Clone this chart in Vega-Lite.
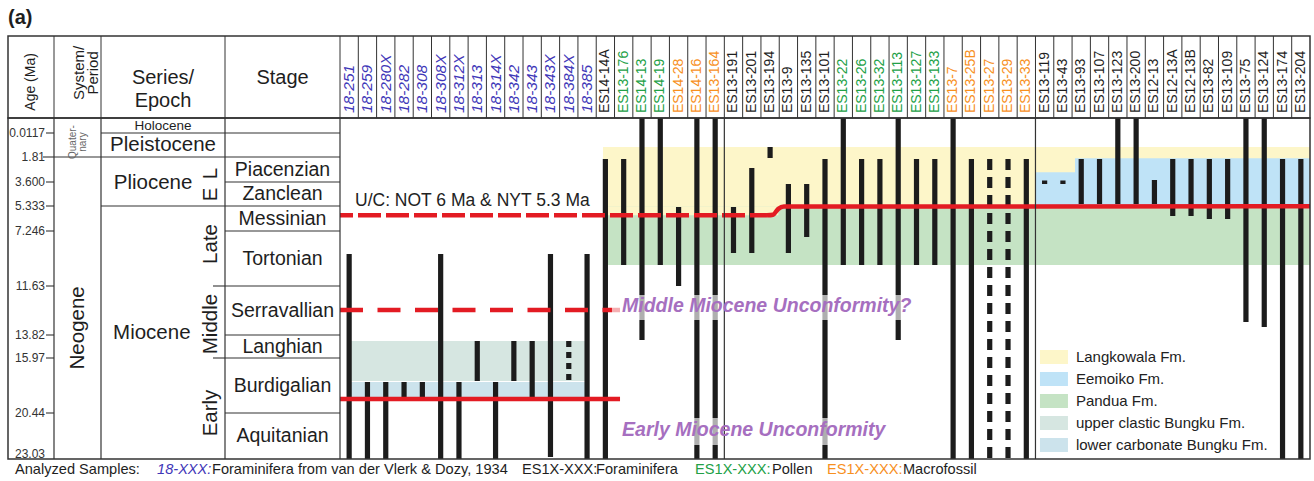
{
"$schema": "https://vega.github.io/schema/vega-lite/v6.json",
"width": 1314, "height": 481, "padding": 0,
"autosize": {"type": "none"},
"background": "#ffffff",
"config": {"view": {"stroke": null}, "axis": {"disable": true}, "legend": {"disable": true}, "font": "Liberation Sans", "text": {"font": "Liberation Sans", "color": "#1e1e1e"}},
"datasets": {
"samples": [
{"col":1,"sample":"18-251","group":"vdV"},{"col":2,"sample":"18-259","group":"vdV"},{"col":3,"sample":"18-280X","group":"vdV"},{"col":4,"sample":"18-282","group":"vdV"},{"col":5,"sample":"18-308","group":"vdV"},{"col":6,"sample":"18-308X","group":"vdV"},{"col":7,"sample":"18-312X","group":"vdV"},{"col":8,"sample":"18-313","group":"vdV"},{"col":9,"sample":"18-314X","group":"vdV"},{"col":10,"sample":"18-342","group":"vdV"},{"col":11,"sample":"18-343","group":"vdV"},{"col":12,"sample":"18-343X","group":"vdV"},{"col":13,"sample":"18-384X","group":"vdV"},{"col":14,"sample":"18-385","group":"vdV"},
{"col":15,"sample":"ES14-14A","group":"foraminifera"},{"col":16,"sample":"ES13-176","group":"pollen"},{"col":17,"sample":"ES14-13","group":"pollen"},{"col":18,"sample":"ES14-19","group":"pollen"},{"col":19,"sample":"ES14-28","group":"macrofossil"},{"col":20,"sample":"ES14-16","group":"macrofossil"},{"col":21,"sample":"ES13-164","group":"macrofossil"},
{"col":22,"sample":"ES13-191","group":"foraminifera"},{"col":23,"sample":"ES13-201","group":"foraminifera"},{"col":24,"sample":"ES13-194","group":"foraminifera"},{"col":25,"sample":"ES13-9","group":"foraminifera"},{"col":26,"sample":"ES13-135","group":"foraminifera"},{"col":27,"sample":"ES13-101","group":"foraminifera"},
{"col":28,"sample":"ES13-22","group":"pollen"},{"col":29,"sample":"ES13-26","group":"pollen"},{"col":30,"sample":"ES13-32","group":"pollen"},{"col":31,"sample":"ES13-113","group":"pollen"},{"col":32,"sample":"ES13-127","group":"pollen"},{"col":33,"sample":"ES13-133","group":"pollen"},
{"col":34,"sample":"ES13-7","group":"macrofossil"},{"col":35,"sample":"ES13-25B","group":"macrofossil"},{"col":36,"sample":"ES13-27","group":"macrofossil"},{"col":37,"sample":"ES13-29","group":"macrofossil"},{"col":38,"sample":"ES13-33","group":"macrofossil"},
{"col":39,"sample":"ES13-119","group":"foraminifera"},{"col":40,"sample":"ES13-43","group":"foraminifera"},{"col":41,"sample":"ES13-93","group":"foraminifera"},{"col":42,"sample":"ES13-107","group":"foraminifera"},{"col":43,"sample":"ES13-123","group":"foraminifera"},{"col":44,"sample":"ES13-200","group":"foraminifera"},{"col":45,"sample":"ES12-13","group":"foraminifera"},{"col":46,"sample":"ES12-13A","group":"foraminifera"},{"col":47,"sample":"ES12-13B","group":"foraminifera"},{"col":48,"sample":"ES13-82","group":"foraminifera"},{"col":49,"sample":"ES13-109","group":"foraminifera"},{"col":50,"sample":"ES13-75","group":"foraminifera"},{"col":51,"sample":"ES13-124","group":"foraminifera"},{"col":52,"sample":"ES13-174","group":"foraminifera"},{"col":53,"sample":"ES13-204","group":"foraminifera"}
],
"ranges": [
{"col":1,"top":9.08,"base":23.03,"line":"solid"},{"col":2,"top":17.92,"base":23.03,"line":"solid"},{"col":3,"top":17.92,"base":23.03,"line":"solid"},{"col":4,"top":17.92,"base":19.22,"line":"solid"},{"col":5,"top":17.92,"base":19.22,"line":"solid"},{"col":6,"top":9.08,"base":23.03,"line":"solid"},{"col":7,"top":17.92,"base":23.03,"line":"solid"},{"col":8,"top":14.38,"base":17.84,"line":"solid"},{"col":9,"top":17.92,"base":23.03,"line":"solid"},{"col":10,"top":14.38,"base":17.84,"line":"solid"},{"col":11,"top":14.38,"base":19.22,"line":"solid"},{"col":12,"top":9.08,"base":22.92,"line":"solid"},{"col":13,"top":14.38,"base":17.84,"line":"dotted"},{"col":14,"top":9.08,"base":23.03,"line":"solid"},
{"col":15,"top":1.95,"base":23.03,"line":"solid"},{"col":16,"top":1.95,"base":9.96,"line":"solid"},{"col":17,"top":0,"base":14.29,"line":"solid"},{"col":18,"top":0,"base":9.96,"line":"solid"},{"col":19,"top":5.41,"base":11.63,"line":"solid"},{"col":20,"top":0,"base":23.03,"line":"solid"},{"col":21,"top":0,"base":23.03,"line":"solid"},
{"col":22,"top":5.41,"base":9.0,"line":"solid"},{"col":23,"top":2.6,"base":9.0,"line":"solid"},{"col":24,"top":1.06,"base":1.88,"line":"solid"},{"col":25,"top":3.74,"base":9.0,"line":"solid"},{"col":26,"top":3.74,"base":7.72,"line":"solid"},{"col":27,"top":1.95,"base":23.03,"line":"solid"},
{"col":28,"top":0,"base":9.96,"line":"solid"},{"col":29,"top":1.95,"base":9.96,"line":"solid"},{"col":30,"top":1.95,"base":9.96,"line":"solid"},{"col":31,"top":0,"base":14.29,"line":"solid"},{"col":32,"top":1.95,"base":9.96,"line":"solid"},{"col":33,"top":1.95,"base":9.96,"line":"solid"},
{"col":34,"top":0,"base":23.03,"line":"solid"},{"col":35,"top":1.95,"base":23.03,"line":"solid"},{"col":36,"top":1.95,"base":23.03,"line":"dashed"},{"col":37,"top":1.95,"base":23.03,"line":"dashed"},{"col":38,"top":1.95,"base":23.03,"line":"solid"},
{"col":39,"top":3.49,"base":3.74,"line":"solid"},{"col":40,"top":3.49,"base":3.74,"line":"solid"},{"col":41,"top":1.95,"base":5.19,"line":"solid"},{"col":42,"top":1.95,"base":5.19,"line":"solid"},{"col":43,"top":0,"base":5.19,"line":"solid"},{"col":44,"top":0,"base":5.19,"line":"solid"},{"col":45,"top":3.46,"base":5.19,"line":"solid"},{"col":46,"top":1.95,"base":6.1,"line":"solid"},{"col":47,"top":1.95,"base":6.1,"line":"solid"},{"col":48,"top":1.95,"base":6.33,"line":"solid"},{"col":49,"top":1.95,"base":6.33,"line":"solid"},{"col":50,"top":0,"base":13.24,"line":"solid"},{"col":51,"top":0,"base":13.46,"line":"solid"},{"col":52,"top":1.95,"base":23.03,"line":"solid"},{"col":53,"top":1.95,"base":23.03,"line":"solid"}
],
"formations": [
{"formation":"Langkowala Fm.","x1":14.87,"x2":53.5,"top":1.06,"base":5.36},
{"formation":"Eemoiko Fm.","x1":40.66,"x2":53.5,"top":1.9,"base":5.36},
{"formation":"Eemoiko Fm.","x1":38.5,"x2":40.66,"top":2.9,"base":5.36},
{"formation":"Pandua Fm.","x1":14.87,"x2":53.5,"top":5.36,"base":9.96},
{"formation":"Langkowala Fm.","x1":14.87,"x2":24.45,"top":5.36,"base":6.05},
{"formation":"upper clastic Bungku Fm.","x1":1.05,"x2":13.89,"top":14.38,"base":17.84},
{"formation":"lower carbonate Bungku Fm.","x1":1.05,"x2":13.89,"top":17.92,"base":19.22}
],
"legend": [{"formation":"Langkowala Fm."},{"formation":"Eemoiko Fm."},{"formation":"Pandua Fm."},{"formation":"upper clastic Bungku Fm."},{"formation":"lower carbonate Bungku Fm."}],
"header_edges": [{"edge":-2.5},{"edge":-1.5},{"edge":-0.5},{"edge":0.5},{"edge":1.5},{"edge":2.5},{"edge":3.5},{"edge":4.5},{"edge":5.5},{"edge":6.5},{"edge":7.5},{"edge":8.5},{"edge":9.5},{"edge":10.5},{"edge":11.5},{"edge":12.5},{"edge":13.5},{"edge":14.5},{"edge":15.5},{"edge":16.5},{"edge":17.5},{"edge":18.5},{"edge":19.5},{"edge":20.5},{"edge":21.5},{"edge":22.5},{"edge":23.5},{"edge":24.5},{"edge":25.5},{"edge":26.5},{"edge":27.5},{"edge":28.5},{"edge":29.5},{"edge":30.5},{"edge":31.5},{"edge":32.5},{"edge":33.5},{"edge":34.5},{"edge":35.5},{"edge":36.5},{"edge":37.5},{"edge":38.5},{"edge":39.5},{"edge":40.5},{"edge":41.5},{"edge":42.5},{"edge":43.5},{"edge":44.5},{"edge":45.5},{"edge":46.5},{"edge":47.5},{"edge":48.5},{"edge":49.5},{"edge":50.5},{"edge":51.5},{"edge":52.5}],
"body_edges": [{"edge":-2.5},{"edge":-1.5},{"edge":-0.5},{"edge":0.5},{"edge":21.5},{"edge":38.5}],
"body_lines": [
{"age":0.0117,"from":-1.5,"to":0.5},{"age":1.81,"from":-2.5,"to":0.5},{"age":3.6,"from":-0.5,"to":0.5},{"age":5.333,"from":-1.5,"to":0.5},{"age":7.246,"from":-0.5,"to":0.5},{"age":11.63,"from":-0.5,"to":0.5},{"age":11.63,"from":-0.597,"to":-0.5},{"age":13.82,"from":-0.5,"to":0.5},{"age":15.97,"from":-0.5,"to":0.5},{"age":15.97,"from":-0.597,"to":-0.5},{"age":20.44,"from":-0.5,"to":0.5},
{"age":0.0117,"from":-2.674,"to":-2.5},{"age":1.81,"from":-2.74,"to":-2.5},{"age":3.6,"from":-2.674,"to":-2.5},{"age":5.333,"from":-2.674,"to":-2.5},{"age":7.246,"from":-2.674,"to":-2.5},{"age":11.63,"from":-2.674,"to":-2.5},{"age":13.82,"from":-2.674,"to":-2.5},{"age":15.97,"from":-2.674,"to":-2.5},{"age":20.44,"from":-2.674,"to":-2.5}
],
"age_labels": [{"age":0.0117,"label":"0.0117"},{"age":1.81,"label":"1.81"},{"age":3.6,"label":"3.600"},{"age":5.333,"label":"5.333"},{"age":7.246,"label":"7.246"},{"age":11.63,"label":"11.63"},{"age":13.82,"label":"13.82"},{"age":15.97,"label":"15.97"},{"age":20.44,"label":"20.44"},{"age":23.03,"label":"23.03"}],
"stages": [{"stage":"Piacenzian","mid":2.705},{"stage":"Zanclean","mid":4.467},{"stage":"Messinian","mid":6.29},{"stage":"Tortonian","mid":9.438},{"stage":"Serravallian","mid":12.725},{"stage":"Langhian","mid":14.895},{"stage":"Burdigalian","mid":18.205},{"stage":"Aquitanian","mid":21.735}],
"unconformities": [
{"segment":"upper_inferred","x":0.5,"age":6.05},{"segment":"upper_inferred","x":23.83,"age":6.05},
{"segment":"upper","x":23.83,"age":6.05},{"segment":"upper","x":24.16,"age":6.0},{"segment":"upper","x":24.45,"age":5.55},{"segment":"upper","x":24.75,"age":5.38},{"segment":"upper","x":53.5,"age":5.36},
{"segment":"middle_inferred","x":0.5,"age":12.7},{"segment":"middle_inferred","x":15.8,"age":12.7},
{"segment":"lower","x":0.5,"age":19.3},{"segment":"lower","x":15.8,"age":19.3}
],
"footer": [
{"text":"Analyzed Samples:","group":"none","col":-3.348},
{"text":"18-XXX:","group":"vdV","col":-1.048},
{"text":"Foraminifera from van der Vlerk & Dozy, 1934","group":"none","col":-0.605},
{"text":"ES1X-XXX:","group":"foraminifera","col":10.44},
{"text":"Foraminifera","group":"none","col":14.49},
{"text":"ES1X-XXX:","group":"pollen","col":19.9},
{"text":"Pollen","group":"none","col":24.1},
{"text":"ES1X-XXX:","group":"macrofossil","col":27.11},
{"text":"Macrofossil","group":"none","col":31.26}
]
},
"layer": [
{"layer": [
 {"data":{"values":[{}]},"mark":{"type":"rect","fill":"#ffffff","fillOpacity":0,"stroke":"#333333","strokeWidth":1.5},
  "encoding":{"x":{"datum":-3.5,"type":"quantitative","scale":{"type":"linear","domain":[-3.5,-2.5,-1.5,-0.5,0.5,53.5],"range":[8,54,101,225,340,1310],"nice":false,"zero":false}},"x2":{"datum":53.5},
   "y":{"datum":0,"type":"quantitative","scale":{"type":"linear","domain":[0,1],"range":[36,118],"nice":false,"zero":false}},"y2":{"datum":1}}},
 {"data":{"name":"header_edges"},"mark":{"type":"rule","stroke":"#333333","strokeWidth":1},
  "encoding":{"x":{"field":"edge","type":"quantitative"},"y":{"datum":0,"type":"quantitative"},"y2":{"datum":1}}},
 {"data":{"values":[{"title":"Age (Ma)"}]},"mark":{"type":"text","angle":270,"fontSize":14},
  "encoding":{"x":{"datum":-3.0,"type":"quantitative"},"y":{"datum":0.56,"type":"quantitative"},"text":{"field":"title"}}},
 {"data":{"values":[{"title":"System/\nPeriod"}]},"mark":{"type":"text","angle":270,"fontSize":15,"lineBreak":"\n","lineHeight":14},
  "encoding":{"x":{"datum":-1.968,"type":"quantitative"},"y":{"datum":0.45,"type":"quantitative"},"text":{"field":"title"}}},
 {"data":{"values":[{"title":"Series/\nEpoch","col":-1.0},{"title":"Stage","col":0}]},"mark":{"type":"text","fontSize":20,"lineBreak":"\n","lineHeight":23},
  "encoding":{"x":{"field":"col","type":"quantitative"},"y":{"datum":0.51,"type":"quantitative"},"text":{"field":"title"}}},
 {"data":{"name":"samples"},"transform":[{"filter":"datum.group !== 'vdV'"}],"mark":{"type":"text","angle":270,"align":"left","baseline":"middle","fontSize":14},
  "encoding":{"x":{"field":"col","type":"quantitative"},"y":{"datum":0.94,"type":"quantitative"},"text":{"field":"sample"},
   "color":{"field":"group","type":"nominal","scale":{"domain":["vdV","foraminifera","pollen","macrofossil","none"],"range":["#3f37b8","#1e1e1e","#22a046","#f7901e","#1e1e1e"]}}}},
 {"data":{"name":"samples"},"transform":[{"filter":"datum.group === 'vdV'"}],"mark":{"type":"text","angle":270,"align":"left","baseline":"middle","fontSize":15.5,"fontStyle":"italic"},
  "encoding":{"x":{"field":"col","type":"quantitative"},"y":{"datum":0.94,"type":"quantitative"},"text":{"field":"sample"},
   "color":{"field":"group","type":"nominal"}}},
 {"data":{"values":[{"panel":"(a)"}]},"mark":{"type":"text","align":"left","fontSize":20,"fontWeight":"bold"},
  "encoding":{"x":{"datum":-3.5,"type":"quantitative"},"y":{"datum":-0.22,"type":"quantitative"},"text":{"field":"panel"}}}
]},
{"layer": [
 {"data":{"name":"formations"},"mark":{"type":"rect","strokeWidth":0},
  "encoding":{"x":{"field":"x1","type":"quantitative","scale":{"type":"linear","domain":[-3.5,-2.5,-1.5,-0.5,0.5,53.5],"range":[8,54,101,225,340,1310],"nice":false,"zero":false}},"x2":{"field":"x2"},
   "y":{"field":"top","type":"quantitative","scale":{"type":"linear","domain":[0,0.0117,1.81,3.6,5.333,7.246,11.63,13.82,15.97,20.44,23.03],"range":[118,133,157,182,206,231,286,335,358,413,459],"nice":false,"zero":false}},"y2":{"field":"base"},
   "fill":{"field":"formation","type":"nominal","scale":{"domain":["Langkowala Fm.","Eemoiko Fm.","Pandua Fm.","upper clastic Bungku Fm.","lower carbonate Bungku Fm."],"range":["#fdf6c9","#bfe3f7","#c5e3c4","#d6e6e1","#cce3ec"]}}}},
 {"data":{"name":"ranges"},"mark":{"type":"rule","stroke":"#1c1c1c","strokeWidth":5.2,"strokeCap":"butt"},
  "encoding":{"x":{"field":"col","type":"quantitative"},"y":{"field":"top","type":"quantitative"},"y2":{"field":"base"},
   "strokeDash":{"field":"line","type":"nominal","scale":{"domain":["solid","dashed","dotted"],"range":[[1,0],[11,7],[6,5]]}}}},
 {"data":{"name":"unconformities"},"transform":[{"filter":"datum.segment === 'upper_inferred'"}],"mark":{"type":"line","stroke":"#e31b23","strokeWidth":4.5,"strokeDash":[23,5],"strokeDashOffset":10},
  "encoding":{"x":{"field":"x","type":"quantitative"},"y":{"field":"age","type":"quantitative"}}},
 {"data":{"name":"unconformities"},"transform":[{"filter":"datum.segment === 'upper'"}],"mark":{"type":"line","stroke":"#e31b23","strokeWidth":4.5,"interpolate":"monotone"},
  "encoding":{"x":{"field":"x","type":"quantitative"},"y":{"field":"age","type":"quantitative"}}},
 {"data":{"name":"unconformities"},"transform":[{"filter":"datum.segment === 'middle_inferred'"}],"mark":{"type":"line","stroke":"#e31b23","strokeWidth":4.5,"strokeDash":[23,14.5]},
  "encoding":{"x":{"field":"x","type":"quantitative"},"y":{"field":"age","type":"quantitative"}}},
 {"data":{"name":"unconformities"},"transform":[{"filter":"datum.segment === 'lower'"}],"mark":{"type":"line","stroke":"#e31b23","strokeWidth":4.5},
  "encoding":{"x":{"field":"x","type":"quantitative"},"y":{"field":"age","type":"quantitative"}}},
 {"data":{"values":[{"x1":15.36,"x2":31.92,"top":12.03,"base":13.15},{"x1":15.36,"x2":30.55,"top":20.72,"base":22.24}]},"mark":{"type":"rect","fill":"#ffffff","opacity":0.65},
  "encoding":{"x":{"field":"x1","type":"quantitative"},"x2":{"field":"x2"},"y":{"field":"top","type":"quantitative"},"y2":{"field":"base"}}},
 {"data":{"name":"body_lines"},"mark":{"type":"rule","stroke":"#333333","strokeWidth":1.1},
  "encoding":{"x":{"field":"from","type":"quantitative"},"x2":{"field":"to"},"y":{"field":"age","type":"quantitative"}}},
 {"data":{"name":"body_edges"},"mark":{"type":"rule","stroke":"#333333","strokeWidth":1.2},
  "encoding":{"x":{"field":"edge","type":"quantitative"},"y":{"datum":0,"type":"quantitative"},"y2":{"datum":23.03}}},
 {"data":{"values":[{}]},"mark":{"type":"rect","fill":"#ffffff","fillOpacity":0,"stroke":"#333333","strokeWidth":1.5},
  "encoding":{"x":{"datum":-3.5,"type":"quantitative"},"x2":{"datum":53.5},"y":{"datum":0,"type":"quantitative"},"y2":{"datum":23.03}}},
 {"data":{"name":"age_labels"},"transform":[{"filter":"datum.age < 23"}],"mark":{"type":"text","align":"right","fontSize":12,"color":"#333333"},
  "encoding":{"x":{"datum":-2.696,"type":"quantitative"},"y":{"field":"age","type":"quantitative"},"text":{"field":"label"}}},
 {"data":{"name":"age_labels"},"transform":[{"filter":"datum.age > 23"}],"mark":{"type":"text","align":"right","fontSize":12,"color":"#333333","dy":-5},
  "encoding":{"x":{"datum":-2.696,"type":"quantitative"},"y":{"field":"age","type":"quantitative"},"text":{"field":"label"}}},
 {"data":{"name":"stages"},"mark":{"type":"text","fontSize":19.5},
  "encoding":{"x":{"datum":0,"type":"quantitative"},"y":{"field":"mid","type":"quantitative"},"text":{"field":"stage"}}},
 {"data":{"values":[{"label":"Pleistocene","col":-1.0,"age":0.91},{"label":"Pliocene","col":-1.08,"age":3.67},{"label":"Miocene","col":-1.09,"age":13.73}]},"mark":{"type":"text","fontSize":20.5},
  "encoding":{"x":{"field":"col","type":"quantitative"},"y":{"field":"age","type":"quantitative"},"text":{"field":"label"}}},
 {"data":{"values":[{"label":"Neogene","col":-2.0,"age":13.5},{"label":"L","col":-0.613,"age":3.0},{"label":"E","col":-0.613,"age":4.5},{"label":"Late","col":-0.613,"age":8.28},{"label":"Middle","col":-0.613,"age":13.33},{"label":"Early","col":-0.613,"age":20.44}]},"mark":{"type":"text","fontSize":20.5,"angle":270},
  "encoding":{"x":{"field":"col","type":"quantitative"},"y":{"field":"age","type":"quantitative"},"text":{"field":"label"}}},
 {"data":{"values":[{"label":"Holocene"}]},"mark":{"type":"text","fontSize":13.5},
  "encoding":{"x":{"datum":-1.0,"type":"quantitative"},"y":{"datum":0.006,"type":"quantitative"},"text":{"field":"label"}}},
 {"data":{"values":[{"label":"Quater-\nnary"}]},"mark":{"type":"text","fontSize":10,"angle":270,"lineBreak":"\n","lineHeight":10,"color":"#666666"},
  "encoding":{"x":{"datum":-2.106,"type":"quantitative"},"y":{"datum":0.69,"type":"quantitative"},"text":{"field":"label"}}},
 {"data":{"values":[{"label":"U/C: NOT 6 Ma & NYT 5.3 Ma"}]},"mark":{"type":"text","fontSize":17.5,"align":"left","color":"#222222"},
  "encoding":{"x":{"datum":1.32,"type":"quantitative"},"y":{"datum":4.97,"type":"quantitative"},"text":{"field":"label"}}},
 {"data":{"values":[{"label":"Middle Miocene Unconformity?","age":12.52},{"label":"Early Miocene Unconformity","age":21.4}]},"mark":{"type":"text","fontSize":19.5,"align":"left","fontWeight":"bold","fontStyle":"italic","color":"#a66fc0"},
  "encoding":{"x":{"datum":15.91,"type":"quantitative"},"y":{"field":"age","type":"quantitative"},"text":{"field":"label"}}}
]},
{"layer": [
 {"data":{"name":"legend"},"mark":{"type":"point","shape":"M-1,-0.5H1V0.5H-1Z","size":784,"filled":true,"strokeWidth":0,"opacity":1},
  "encoding":{"x":{"datum":39.51,"type":"quantitative"},"y":{"field":"formation","type":"nominal","scale":{"type":"point","domain":["Langkowala Fm.","Eemoiko Fm.","Pandua Fm.","upper clastic Bungku Fm.","lower carbonate Bungku Fm."],"range":[357,445],"padding":0}},
   "fill":{"field":"formation","type":"nominal"}}},
 {"data":{"name":"legend"},"mark":{"type":"text","align":"left","fontSize":15,"color":"#222222"},
  "encoding":{"x":{"datum":40.71,"type":"quantitative"},"y":{"field":"formation","type":"nominal"},"text":{"field":"formation"}}}
]},
{"layer": [
 {"data":{"name":"footer"},"transform":[{"filter":"datum.group !== 'vdV'"}],"mark":{"type":"text","align":"left","fontSize":14.6},
  "encoding":{"x":{"field":"col","type":"quantitative"},"y":{"datum":0.5,"type":"quantitative","scale":{"type":"linear","domain":[0,1],"range":[459,481],"nice":false,"zero":false}},"text":{"field":"text"},"color":{"field":"group","type":"nominal"}}},
 {"data":{"name":"footer"},"transform":[{"filter":"datum.group === 'vdV'"}],"mark":{"type":"text","align":"left","fontSize":14.6,"fontStyle":"italic"},
  "encoding":{"x":{"field":"col","type":"quantitative"},"y":{"datum":0.5,"type":"quantitative"},"text":{"field":"text"},"color":{"field":"group","type":"nominal"}}}
]}
],
"resolve": {"scale": {"y": "independent"}}
}
